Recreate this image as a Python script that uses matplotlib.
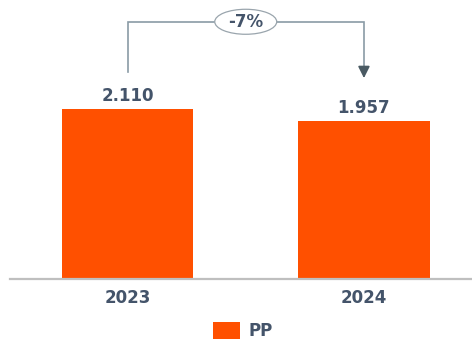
import matplotlib.pyplot as plt
from matplotlib.patches import Patch, Ellipse

anos = ['2023', '2024']
valores = [2.110, 1.957]
rotulos = ['2.110', '1.957']
variacao = '-7%'
serie = 'PP'

laranja = '#FF5000'
texto = '#44546A'
cinza_linha = '#8A9BA6'

fig = plt.figure(figsize=(4.72, 3.43), dpi=100)
ax = fig.add_axes([10 / 472, 64 / 343, 462 / 472, 279 / 343])

x = list(range(len(anos)))
ax.bar(x, valores, width=0.555, color=laranja, zorder=2)
ax.set_xlim(-0.497, 1.457)
ax.set_ylim(0, 3.46)

# rótulos de valor acima das barras
for xi, v, r in zip(x, valores, rotulos):
    ax.annotate(r, (xi, v), xytext=(0, 3), textcoords='offset points',
                ha='center', va='bottom', fontsize=12, fontweight='bold', color=texto)

# eixo: só a linha de base
for lado in ['top', 'right', 'left']:
    ax.spines[lado].set_visible(False)
ax.spines['bottom'].set_color('#BFBFBF')
ax.spines['bottom'].set_linewidth(1.6)
ax.set_yticks([])
ax.set_xticks(x)
ax.set_xticklabels(anos, fontsize=12, fontweight='bold', color=texto)
ax.tick_params(axis='x', length=0, pad=7)

# colchete com a variação entre os anos
topo = max(valores) + 1.08
ini = valores[0] + 0.46
fim = valores[1] + 0.50
ax.plot([x[0], x[0], x[1], x[1]], [ini, topo, topo, fim + 0.12],
        color=cinza_linha, lw=1.2, solid_joinstyle='miter', zorder=3)
ax.annotate('', xy=(x[1], fim), xytext=(x[1], fim + 0.15),
            arrowprops=dict(arrowstyle='-|>,head_length=0.7,head_width=0.35',
                            color='#4A5A63', lw=1.2), zorder=4)
meio = (x[0] + x[1]) / 2
ax.add_patch(Ellipse((meio, topo), 0.262, 0.31, facecolor='white',
                     edgecolor='#9AA5AD', lw=0.9, zorder=4))
ax.text(meio, topo, variacao, ha='center', va='center',
        fontsize=12, fontweight='bold', color=texto, zorder=5)

# legenda
fig.legend(handles=[Patch(facecolor=laranja, label=serie)], loc='center',
           bbox_to_anchor=(243 / 472, 12 / 343), frameon=False,
           prop={'size': 12, 'weight': 'bold'}, labelcolor=texto,
           handlelength=1.6, handleheight=1.2, handletextpad=0.5)

plt.savefig('out.png', dpi=100)
